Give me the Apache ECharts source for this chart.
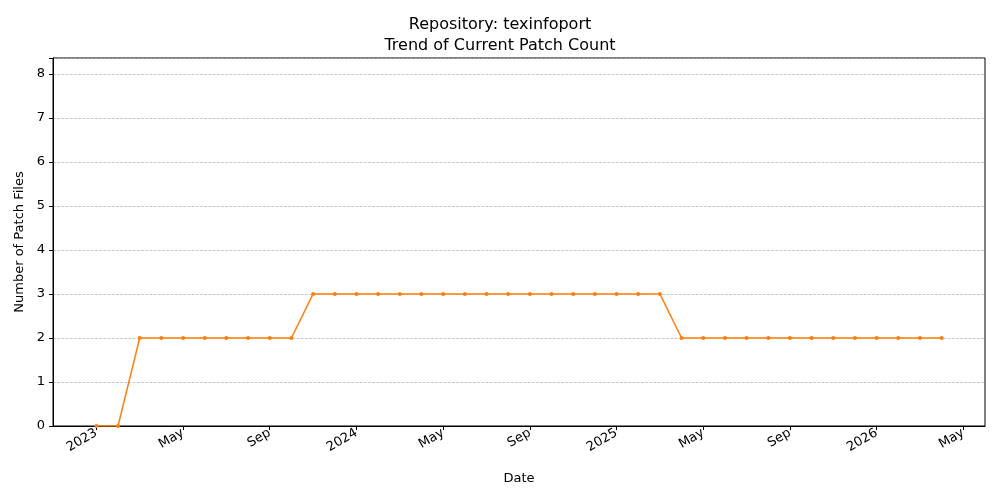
<!DOCTYPE html>
<html><head><meta charset="utf-8">
<script src="https://cdn.jsdelivr.net/npm/echarts@6/dist/echarts.min.js"></script>
<style>html,body{margin:0;padding:0;background:#fff}#c{width:1000px;height:500px}</style>
</head><body><div id="c"></div>
<script>
const dates = ["2023-01","2023-02","2023-03","2023-04","2023-05","2023-06","2023-07","2023-08","2023-09","2023-10","2023-11","2023-12",
"2024-01","2024-02","2024-03","2024-04","2024-05","2024-06","2024-07","2024-08","2024-09","2024-10","2024-11","2024-12",
"2025-01","2025-02","2025-03","2025-04","2025-05","2025-06","2025-07","2025-08","2025-09","2025-10","2025-11","2025-12",
"2026-01","2026-02","2026-03","2026-04"];
const patchCounts = [0,0,2,2,2,2,2,2,2,2,3,3,3,3,3,3,3,3,3,3,3,3,3,3,3,3,3,2,2,2,2,2,2,2,2,2,2,2,2,2];
const tickLabels = {0:"2023",4:"May",8:"Sep",12:"2024",16:"May",20:"Sep",24:"2025",28:"May",32:"Sep",36:"2026",40:"May"};
const tickValues = Object.keys(tickLabels).map(Number);
function monthIndex(d){const [y,m]=d.split("-").map(Number);return (y-2023)*12+(m-1);}
const chart = echarts.init(document.getElementById('c'));
const font = "DejaVu Sans";
chart.setOption({
  animation:false,
  textStyle:{fontFamily:font},
  title:{text:"Repository: texinfoport\nTrend of Current Patch Count",left:'center',top:9,
    textStyle:{fontFamily:font,fontSize:16,fontWeight:'normal',color:'#000',lineHeight:21}},
  grid:{left:53,right:15,top:58,bottom:74,show:true,borderColor:'#000',borderWidth:1},
  xAxis:{type:'value',min:-2,max:41,name:'Date',nameLocation:'middle',nameGap:46,
    nameTextStyle:{fontFamily:font,fontSize:13,color:'#000'},
    axisLine:{show:true,onZero:false,lineStyle:{color:'#000'}},
    axisTick:{show:true,customValues:tickValues,length:4,lineStyle:{color:'#000'}},
    axisLabel:{customValues:tickValues,rotate:30,color:'#000',fontSize:13,fontFamily:font,margin:6,
      formatter:v=>tickLabels[v]||''},
    splitLine:{show:false}},
  yAxis:{type:'value',min:0,max:8.36,interval:1,name:'Number of Patch Files',nameLocation:'middle',nameGap:27,
    nameTextStyle:{fontFamily:font,fontSize:13,color:'#000'},
    axisLine:{show:true,onZero:false,lineStyle:{color:'#000'}},
    axisTick:{show:true,length:4,lineStyle:{color:'#000'}},
    axisLabel:{color:'#000',fontSize:13,fontFamily:font,formatter:v=>Number.isInteger(v)?v:''},
    splitLine:{show:true,lineStyle:{color:'#b0b0b0',type:'dashed',width:0.7}}},
  series:[{type:'line',data:dates.map((d,i)=>[monthIndex(d),patchCounts[i]]),
    symbol:'circle',symbolSize:4,lineStyle:{color:'#ff7f0e',width:1.5},itemStyle:{color:'#ff7f0e'}}]
});
</script></body></html>
